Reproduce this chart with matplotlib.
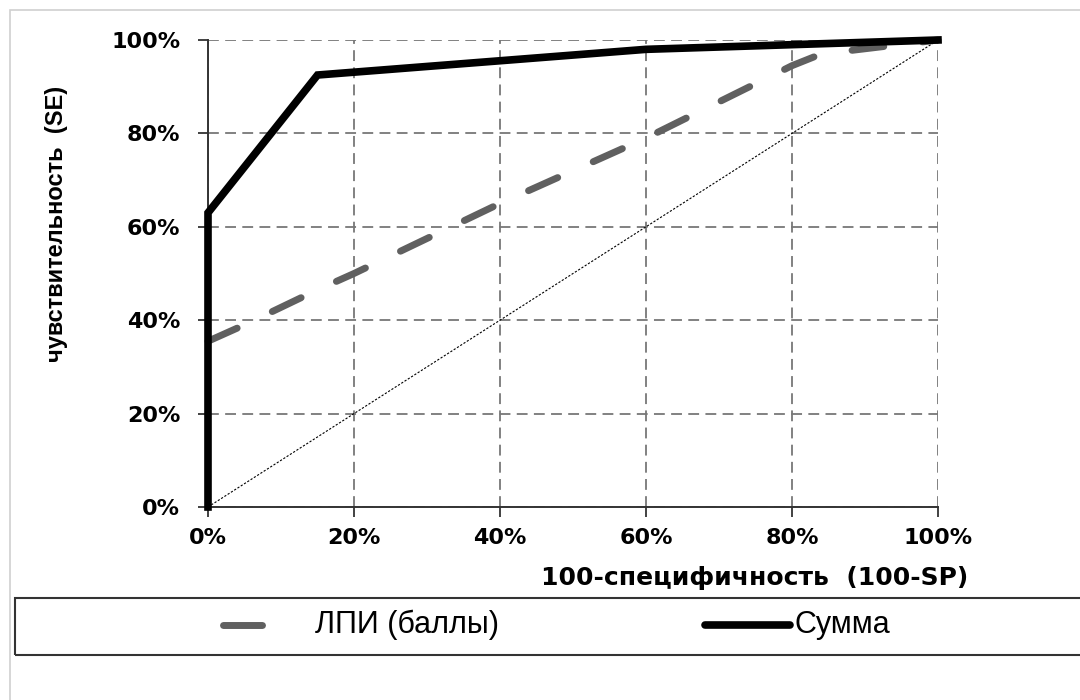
import matplotlib
matplotlib.use("Agg")
import matplotlib.pyplot as plt
from matplotlib.lines import Line2D
from matplotlib.patches import Rectangle
from matplotlib.ticker import PercentFormatter

plt.rcParams["font.family"] = ["DejaVu Sans"]

# ROC curves, values in %
lpi_x = [0, 5, 15, 20, 40, 60, 80, 84, 100]
lpi_y = [35.5, 39, 46.5, 50, 65, 79, 94.5, 97, 100]
sum_x = [0, 0, 15, 60, 80, 100]
sum_y = [0, 63, 92.5, 98, 99, 100]
diag = [0, 100]
ticks = [0, 20, 40, 60, 80, 100]

W, H = 1080, 700
fig = plt.figure(figsize=(W / 100, H / 100), dpi=100)
ax = fig.add_axes([208 / W, 1 - 507 / H, 730 / W, 467 / H])

ax.plot(diag, diag, color="black", lw=0.8, dashes=(2, 1.5), zorder=2)
ax.plot(lpi_x, lpi_y, color="#606060", lw=5, dashes=(4.6, 5.6),
        dash_capstyle="round", zorder=3, clip_on=False)
ax.plot(sum_x, sum_y, color="black", lw=5.5, solid_joinstyle="miter",
        zorder=4, clip_on=False)

ax.set_xlim(0, 100)
ax.set_ylim(0, 100)
ax.set_xticks(ticks)
ax.set_yticks(ticks)
ax.xaxis.set_major_formatter(PercentFormatter(decimals=0))
ax.yaxis.set_major_formatter(PercentFormatter(decimals=0))
ax.grid(True, color="#777777", lw=1.3, dashes=(6, 3.5))
ax.set_axisbelow(True)
for side in ["top", "right"]:
    ax.spines[side].set_visible(False)
for side in ["left", "bottom"]:
    ax.spines[side].set_color("#333333")
    ax.spines[side].set_linewidth(1.4)
ax.tick_params(direction="out", length=7, width=1.3, color="#333333",
               labelsize=16)
ax.tick_params(axis="y", pad=13)
ax.tick_params(axis="x", pad=8)
for lab in ax.get_xticklabels() + ax.get_yticklabels():
    lab.set_fontweight("bold")

fig.text(968 / W, 1 - 578 / H, "100-специфичность  (100-SP)", ha="right",
         va="center", fontsize=18, fontweight="bold")
fig.text(57 / W, 1 - 224 / H, "чувствительность  (SE)", ha="center",
         va="center", rotation=90, fontsize=17, fontweight="bold",
         family=["Liberation Sans", "DejaVu Sans"])

# outer frame
fig.patches.append(Rectangle((10 / W, -0.1), 1.2, 1 - 10 / H + 0.1,
                             transform=fig.transFigure, fill=False,
                             edgecolor="#d0d0d0", lw=1.2))
# legend box
fig.patches.append(Rectangle((15 / W, 1 - 655 / H), 1.1, 57 / H,
                             transform=fig.transFigure, fill=False,
                             edgecolor="#333333", lw=1.5))
ly = 1 - 625 / H
leg_font = ["Liberation Sans", "DejaVu Sans"]
fig.lines.append(Line2D([223 / W, 262 / W], [ly, ly], transform=fig.transFigure,
                        color="#606060", lw=5, solid_capstyle="round"))
fig.text(315 / W, ly, "ЛПИ (баллы)", ha="left", va="center", fontsize=22,
         family=leg_font)
fig.lines.append(Line2D([705 / W, 790 / W], [ly, ly], transform=fig.transFigure,
                        color="black", lw=5.5, solid_capstyle="round"))
fig.text(795 / W, ly, "Сумма", ha="left", va="center", fontsize=22,
         family=leg_font)

fig.savefig("out.png", dpi=100)
